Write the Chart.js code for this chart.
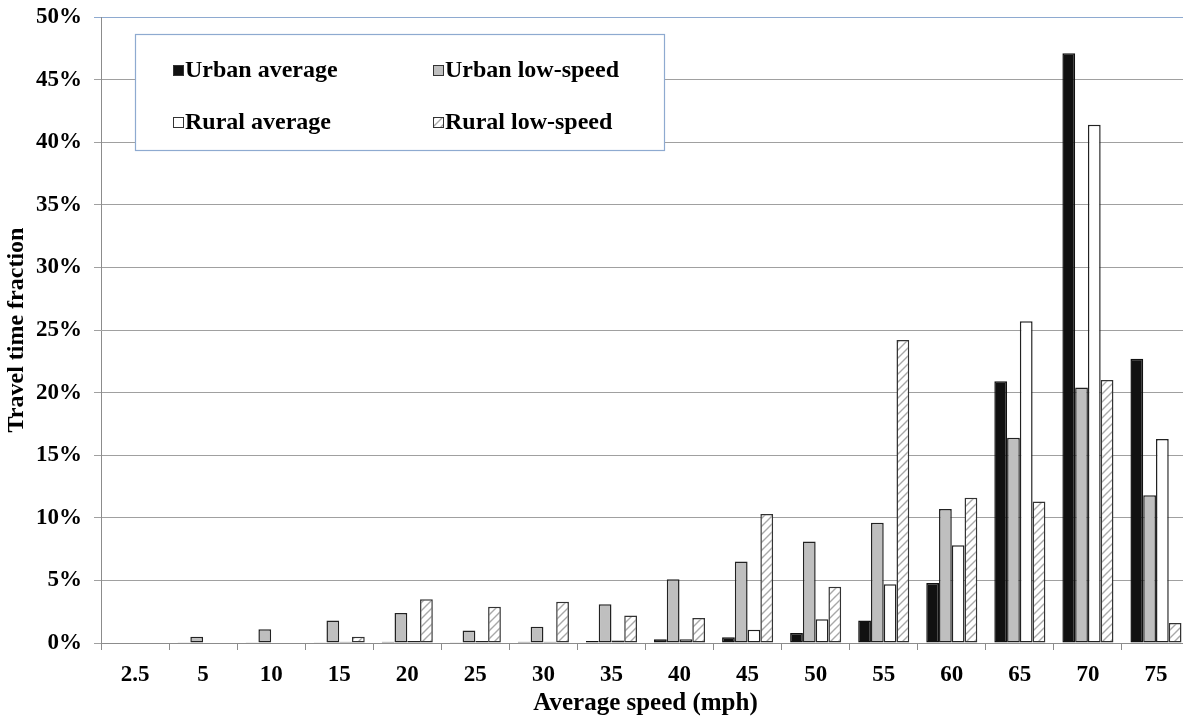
<!DOCTYPE html>
<html>
<head>
<meta charset="utf-8">
<script src="https://cdn.jsdelivr.net/npm/chart.js@4"></script>
<style>
  html, body { margin: 0; padding: 0; background: #fff; overflow: hidden; }
  #wrap { width: 1183px; height: 719px; overflow: hidden; }
</style>
</head>
<body>
<div id="wrap"><canvas id="speed-bar" width="1190" height="719"></canvas></div>
<script>
// 速度分布数据（单位：%）
const speeds = ['2.5', '5', '10', '15', '20', '25', '30', '35', '40', '45', '50', '55', '60', '65', '70', '75'];
const urbanAverage = [0, 0.05, 0.05, 0.05, 0.1, 0.05, 0.1, 0.15, 0.3, 0.45, 0.8, 1.8, 4.8, 20.9, 47.1, 22.7];
const urbanLowSpeed = [0, 0.5, 1.1, 1.8, 2.4, 1.0, 1.3, 3.1, 5.1, 6.5, 8.1, 9.6, 10.7, 16.4, 20.4, 11.8];
const ruralAverage = [0, 0, 0, 0.1, 0.15, 0.15, 0.1, 0.2, 0.3, 1.05, 1.9, 4.7, 7.8, 25.7, 41.4, 16.3];
const ruralLowSpeed = [0, 0, 0, 0.5, 3.5, 2.9, 3.3, 2.2, 2.0, 10.3, 4.5, 24.2, 11.6, 11.3, 21.0, 1.6];

const FONT = '"Liberation Serif", "Times New Roman", serif';

// 斜线填充
function hatch() {
  const c = document.createElement('canvas');
  c.width = 8; c.height = 8;
  const g = c.getContext('2d');
  g.fillStyle = '#fff';
  g.fillRect(0, 0, 8, 8);
  g.strokeStyle = '#a8a8a8';
  g.lineWidth = 1.4;
  g.beginPath();
  g.moveTo(-2, 10); g.lineTo(10, -2);
  g.moveTo(-2, 2); g.lineTo(2, -2);
  g.moveTo(6, 10); g.lineTo(10, 6);
  g.stroke();
  return g.createPattern(c, 'repeat');
}
const hatchFill = hatch();

// 图例画在图表内部左上角
const boxLegend = {
  id: 'boxLegend',
  afterDatasetsDraw(chart) {
    const { ctx, chartArea } = chart;
    const x0 = chartArea.left + 34, y0 = chartArea.top + 17;
    const w = 529, h = 116;
    ctx.save();
    ctx.fillStyle = '#fff';
    ctx.fillRect(x0, y0, w, h);
    ctx.strokeStyle = '#8eaad0';
    ctx.lineWidth = 1.2;
    ctx.strokeRect(x0 + 0.5, y0 + 0.5, w, h);
    ctx.font = 'bold 24px ' + FONT;
    ctx.textBaseline = 'middle';
    const pos = [[x0 + 38, y0 + 37], [x0 + 298, y0 + 37], [x0 + 38, y0 + 89], [x0 + 298, y0 + 89]];
    chart.data.datasets.forEach((ds, i) => {
      const [px, py] = pos[i];
      ctx.fillStyle = ds.backgroundColor;
      ctx.fillRect(px, py - 6, 11, 11);
      ctx.strokeStyle = '#333';
      ctx.lineWidth = 1;
      ctx.strokeRect(px + 0.5, py - 5.5, 10, 10);
      ctx.fillStyle = '#000';
      ctx.fillText(ds.label, px + 12, py);
    });
    ctx.restore();
  }
};

new Chart(document.getElementById('speed-bar'), {
  type: 'bar',
  data: {
    labels: speeds,
    datasets: [
      { label: 'Urban average', data: urbanAverage, backgroundColor: '#111111', borderColor: '#111111' },
      { label: 'Urban low-speed', data: urbanLowSpeed, backgroundColor: '#bfbfbf', borderColor: '#222222' },
      { label: 'Rural average', data: ruralAverage, backgroundColor: '#ffffff', borderColor: '#222222' },
      { label: 'Rural low-speed', data: ruralLowSpeed, backgroundColor: hatchFill, borderColor: '#333333' }
    ]
  },
  options: {
    responsive: false,
    animation: false,
    devicePixelRatio: 1,
    layout: { padding: { top: 17, right: 0, bottom: 0, left: 0 } },
    datasets: { bar: { borderWidth: 1.5, barPercentage: 1, categoryPercentage: 0.75, borderSkipped: false } },
    plugins: { legend: { display: false }, tooltip: { enabled: false } },
    scales: {
      x: {
        afterFit: s => { s.height = 76; s.paddingLeft = 0; s.paddingRight = 0; },
        grid: { drawOnChartArea: false, tickLength: 7, color: '#8c8c8c' },
        border: { color: '#8c8c8c' },
        ticks: { color: '#000', padding: 11, font: { family: FONT, size: 23, weight: 'bold' } },
        title: { display: true, text: 'Average speed (mph)', color: '#000', padding: { top: 0, bottom: 0 },
          font: { family: FONT, size: 25, weight: 'bold' } }
      },
      y: {
        min: 0, max: 50,
        afterFit: s => { s.width = 101; s.paddingTop = 0; s.paddingBottom = 0; },
        grid: { tickLength: 7, color: ctx => ctx.tick && ctx.tick.value === 50 ? '#8eaad0' : '#a0a0a0' },
        border: { color: '#8c8c8c' },
        ticks: { stepSize: 5, color: '#000', padding: 12, callback: v => v + '%',
          font: { family: FONT, size: 23, weight: 'bold' } },
        title: { display: true, text: 'Travel time fraction', color: '#000', padding: { top: 2, bottom: 2 },
          font: { family: FONT, size: 24, weight: 'bold' } }
      }
    }
  },
  plugins: [boxLegend]
});
</script>
</body>
</html>
